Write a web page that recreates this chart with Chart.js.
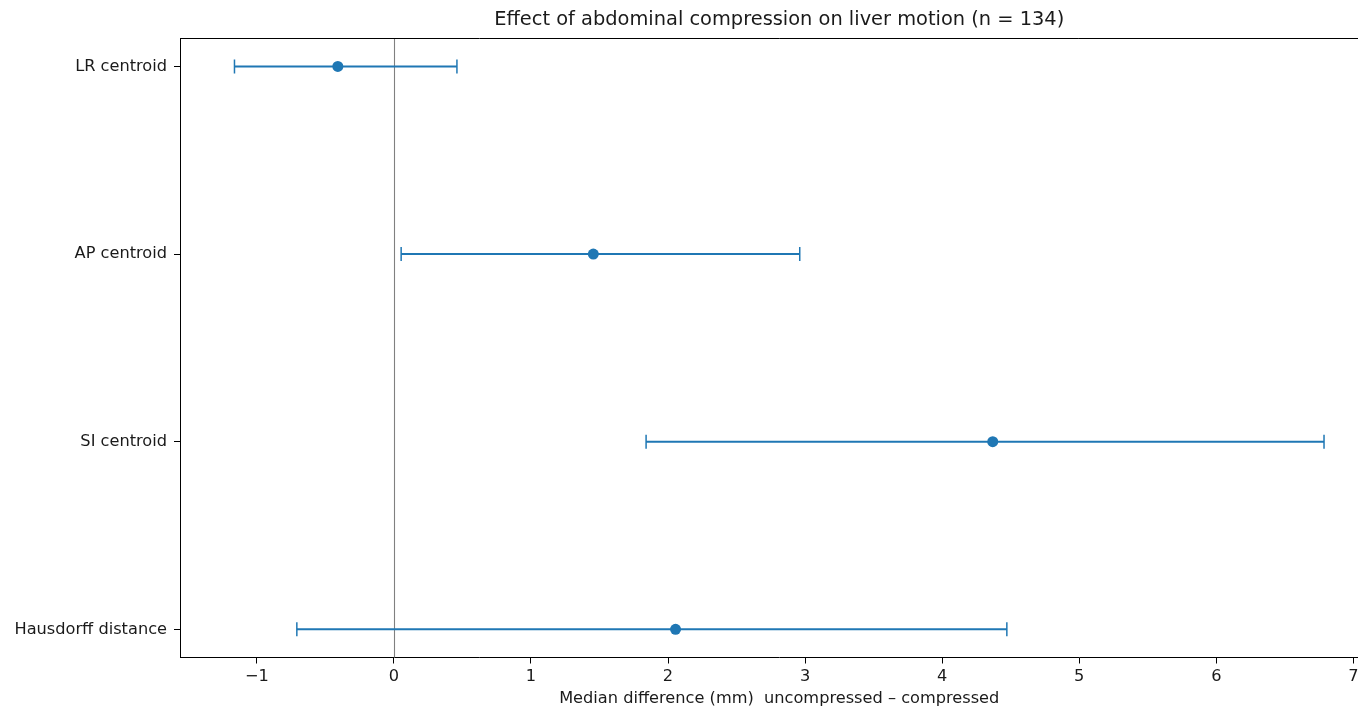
<!DOCTYPE html>
<html>
<head>
<meta charset="utf-8">
<script src="https://cdn.jsdelivr.net/npm/chart.js@4/dist/chart.umd.min.js"></script>
<style>
  html, body { margin: 0; padding: 0; background: #fff; overflow: hidden; }
  #wrap { width: 1400px; height: 709px; }
</style>
</head>
<body>
<div id="wrap"><canvas id="c" width="1400" height="709"></canvas></div>
<script>
// ---- data ----
const categories = ['LR centroid', 'AP centroid', 'SI centroid', 'Hausdorff distance'];
const medians = [-0.409, 1.455, 4.369, 2.055];
const lowerCI = [-1.163, 0.053, 1.840, -0.708];
const upperCI = [0.460, 2.961, 6.786, 4.472];
const xTicks = [-1, 0, 1, 2, 3, 4, 5, 6, 7];
const refValue = 0;
const titleText = 'Effect of abdominal compression on liver motion (n = 134)';
const xLabel = 'Median difference (mm)  uncompressed \u2013 compressed';

const BLUE = '#1f77b4';
const FONT = "'DejaVu Sans', sans-serif";
const TXT = '#1a1a1a';
const TITLE_SIZE = 19.4;

// x range with 5% margins like matplotlib
const lo = Math.min(...lowerCI), hi = Math.max(...upperCI);
const span = hi - lo;
const xMin = lo - 0.05 * span, xMax = hi + 0.05 * span;
const nCat = categories.length;
const yMin = -0.05 * (nCat - 1), yMax = (nCat - 1) * 1.05;

const datasets = [];
categories.forEach((c, i) => {
  datasets.push({
    type: 'line',
    data: [{x: lowerCI[i], y: i}, {x: upperCI[i], y: i}],
    borderColor: BLUE,
    borderWidth: 2,
    showLine: true,
    pointStyle: 'line',
    pointRotation: 90,
    pointRadius: 7,
    pointHoverRadius: 7,
    pointBorderColor: BLUE,
    pointBorderWidth: 1.5,
    order: 2
  });
});
datasets.push({
  type: 'scatter',
  data: medians.map((m, i) => ({x: m, y: i})),
  backgroundColor: BLUE,
  borderWidth: 0,
  pointRadius: 5.5,
  pointHoverRadius: 5.5,
  order: 1
});

const framePlugin = {
  id: 'frame',
  beforeDatasetsDraw(chart) {
    const {ctx, chartArea} = chart;
    const xs = chart.scales.x;
    const px = Math.round(xs.getPixelForValue(refValue)) + 0.5;
    ctx.save();
    ctx.strokeStyle = '#808080';
    ctx.lineWidth = 1.1;
    ctx.beginPath();
    ctx.moveTo(px, chartArea.top);
    ctx.lineTo(px, chartArea.bottom);
    ctx.stroke();
    ctx.restore();
  },
  afterDraw(chart) {
    const {ctx, chartArea} = chart;
    ctx.save();
    ctx.strokeStyle = '#000';
    ctx.lineWidth = 1;
    ctx.beginPath();
    const t = Math.round(chartArea.top) + 0.5;
    ctx.moveTo(chartArea.left, t);
    ctx.lineTo(chartArea.right, t);
    ctx.stroke();
    // title centred over the axes area (like matplotlib)
    const tb = chart.titleBlock;
    const cy = tb ? (tb.top + 8 + (TITLE_SIZE * 1.2) / 2) : 19.5;
    ctx.fillStyle = TXT;
    ctx.font = `normal ${TITLE_SIZE}px ${FONT}`;
    ctx.textAlign = 'center';
    ctx.textBaseline = 'middle';
    ctx.fillText(titleText, (chartArea.left + chartArea.right) / 2, cy);
    ctx.restore();
  }
};

new Chart(document.getElementById('c'), {
  type: 'scatter',
  data: { datasets },
  options: {
    responsive: false,
    animation: false,
    events: [],
    layout: { padding: { left: 0, right: 21.5, top: 0, bottom: 0 } },
    plugins: {
      legend: { display: false },
      tooltip: { enabled: false },
      title: {
        display: true,
        text: titleText,
        color: 'rgba(0,0,0,0)',
        font: { family: FONT, size: TITLE_SIZE, weight: 'normal' },
        padding: { top: 8, bottom: 7 }
      }
    },
    scales: {
      x: {
        type: 'linear',
        min: xMin,
        max: xMax,
        afterBuildTicks: (s) => { s.ticks = xTicks.map(v => ({value: v})); },
        afterFit: (s) => { s.height = 51.5; },
        ticks: {
          color: TXT,
          font: { family: FONT, size: 16.2 },
          padding: 4,
          maxRotation: 0,
          callback: (v) => (v < 0 ? '\u2212' + Math.abs(v) : String(v))
        },
        grid: { drawOnChartArea: false, drawTicks: true, tickLength: 6, tickColor: '#000', tickWidth: 1 },
        border: { display: true, color: '#000', width: 1 },
        title: {
          display: true,
          text: xLabel,
          color: TXT,
          font: { family: FONT, size: 16.2 },
          padding: { top: 2, bottom: 0 }
        }
      },
      y: {
        type: 'linear',
        min: yMin,
        max: yMax,
        reverse: true,
        afterBuildTicks: (s) => { s.ticks = categories.map((c, i) => ({value: i})); },
        afterFit: (s) => { s.width = 180; },
        ticks: {
          color: TXT,
          font: { family: FONT, size: 16.2 },
          padding: 7,
          callback: (v) => categories[v]
        },
        grid: { drawOnChartArea: false, drawTicks: true, tickLength: 6, tickColor: '#000', tickWidth: 1 },
        border: { display: true, color: '#000', width: 1 }
      }
    }
  },
  plugins: [framePlugin]
});
</script>
</body>
</html>
